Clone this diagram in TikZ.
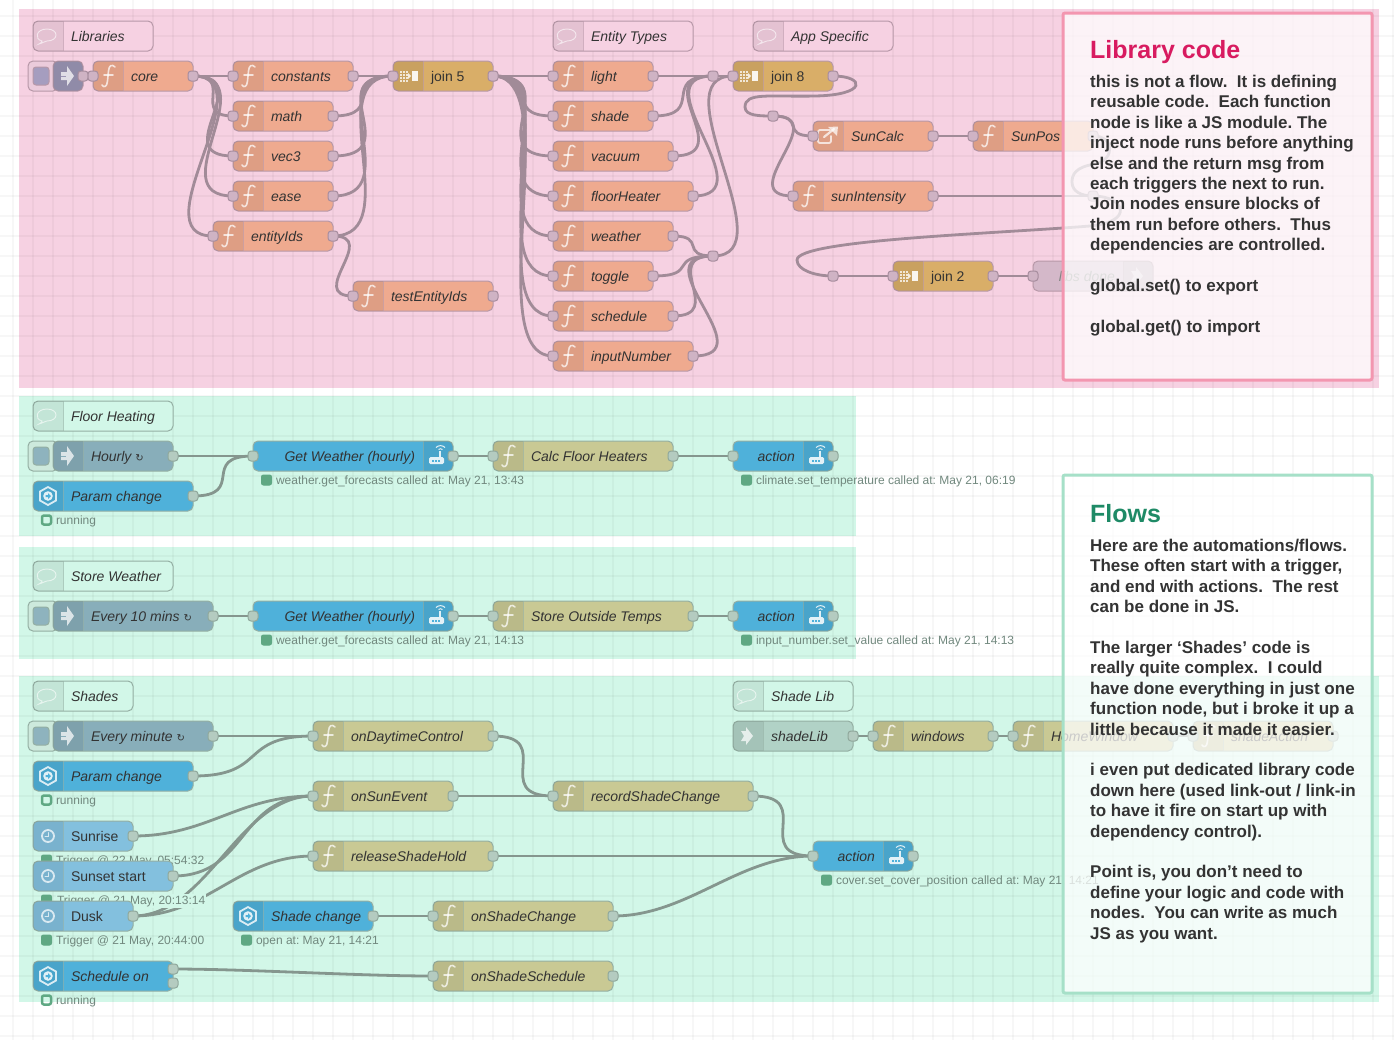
\documentclass[tikz,border=0pt]{standalone}
\usepackage{fontspec}
\setmainfont{Liberation Sans}
\newfontfamily\symfont{DejaVu Sans}
\usetikzlibrary{calc,positioning}

\definecolor{pinkzone}{HTML}{F6D1E2}
\definecolor{greenzone}{HTML}{D2F7E8}
\definecolor{inkcol}{HTML}{333333}
\definecolor{bluecol}{HTML}{4FB1DA}
\definecolor{clockcol}{HTML}{83C0DE}

\pgfdeclarelayer{grid}
\pgfdeclarelayer{wires}
\pgfdeclarelayer{notes}
\pgfsetlayers{grid,wires,main,notes}

\tikzset{
  flowbox/.style={draw=edgecol,line width=1pt,rounded corners=5pt,minimum height=30pt,inner sep=0pt,outer sep=0pt},
  port/.style={draw=portedge,fill=portcol,line width=1pt,rounded corners=3pt,minimum size=10pt,inner sep=0pt,outer sep=0pt},
  wire/.style={draw=wirecol,line width=2.8pt},
  flowtext/.style={text=inkcol,inner sep=0pt,outer sep=0pt},
  statustext/.style={text=statuscol,inner sep=0pt,outer sep=0pt,font=\fontsize{12}{14}\selectfont},
  statusdot/.style={draw=dotcol,fill=dotcol,line width=1pt,rounded corners=2pt,minimum size=10pt,inner sep=0pt},
  statusring/.style={draw=dotcol,line width=2.5pt,rounded corners=2pt,minimum size=9pt,inner sep=0pt},
  iconfill/.style={fill=white,fill opacity=.72},
  iconline/.style={draw=white,draw opacity=.72,line width=1.6pt,line cap=round},
  notebox/.style={line width=3pt,rounded corners=2pt,fill=white,fill opacity=.74,draw opacity=1,inner sep=0pt},
  notehead/.style={inner sep=0pt,font=\bfseries\fontsize{25}{30}\selectfont},
  notetext/.style={inner sep=0pt,align=left,text=inkcol,font=\bfseries\fontsize{17}{20.4}\selectfont}
}

% darker stripe on the icon side of a node
\newcommand{\leftstripe}[1]{
  \begin{scope}
    \clip[rounded corners=5pt] (#1.north west) rectangle (#1.south east);
    \fill[black,opacity=.07] (#1.north west) rectangle ($(#1.south west)+(30,0)$);
    \draw[edgecol,opacity=.6] ($(#1.north west)+(30,0)$) -- ($(#1.south west)+(30,0)$);
  \end{scope}
}
\newcommand{\rightstripe}[1]{
  \begin{scope}
    \clip[rounded corners=5pt] (#1.north west) rectangle (#1.south east);
    \fill[black,opacity=.07] ($(#1.north east)-(30,0)$) rectangle (#1.south east);
    \draw[edgecol,opacity=.6] ($(#1.north east)-(30,0)$) -- ($(#1.south east)-(30,0)$);
  \end{scope}
}

% body with a left stripe: name, x, y, width, fill
\newcommand{\leftnode}[5]{
  \node[flowbox,fill=#5,minimum width=#4pt] (#1) at ({#2+#4/2},#3) {};
  \leftstripe{#1}
}
\newcommand{\leftlabel}[5][\itshape]{
  \node[flowtext,anchor=base west,font=\fontsize{14}{16}\selectfont#1] (#2-t) at ({#3+38},{#4+5}) {#5};
}
\newcommand{\portin}[3]{\node[port] (#1-i) at (#2,#3) {};}
\newcommand{\portout}[3]{\node[port] (#1-o) at (#2,#3) {};}

% icons, drawn from the left edge of the node (or the right one, for right stripes)
\newcommand{\fnglyph}[2]{
  \begin{scope}[shift={(#1,#2)}]
    \draw[iconline] (22,-9) .. controls (19,-12) and (16,-11) .. (15.5,-5) -- (14.5,5) .. controls (14,11) and (11,12) .. (9,9);
    \draw[iconline] (11,-1) -- (20,-1);
  \end{scope}
}
\newcommand{\injectglyph}[2]{
  \begin{scope}[shift={(#1,#2)}]
    \fill[iconfill] (8,-4) -- (14,-4) -- (14,-10) -- (21,0) -- (14,10) -- (14,4) -- (8,4) -- cycle;
    \draw[injcol,line width=1pt] (8,0) -- (13,0);
  \end{scope}
}
\newcommand{\hexglyph}[2]{
  \begin{scope}[shift={(#1,#2)}]
    \draw[draw=white,draw opacity=.8,line width=1.8pt] (15,-9) -- (23,-4.5) -- (23,4.5) -- (15,9) -- (7,4.5) -- (7,-4.5) -- cycle;
    \fill[white,opacity=.85] (15,0) circle (4.8pt);
    \fill[bluecol] (12.5,-1) -- (15,-1) -- (15,-3) -- (18,0) -- (15,3) -- (15,1) -- (12.5,1) -- cycle;
  \end{scope}
}
\newcommand{\clockglyph}[2]{
  \begin{scope}[shift={(#1,#2)}]
    \draw[iconline,line width=1.8pt] (15,0) circle (6pt);
    \draw[iconline,line width=1pt] (15,-3.5) -- (15,0) -- (12,0);
  \end{scope}
}
\newcommand{\routerglyph}[2]{
  \begin{scope}[shift={(#1,#2)}]
    \fill[white,opacity=.85,rounded corners=1.5pt] (-24,1) rectangle (-9,8);
    \foreach \dotx in {-21,-18,-15} {\fill[bluecol] (\dotx,3.6) rectangle +(2,2);}
    \draw[white,opacity=.85,line width=1.4pt] (-13,1) -- (-13,-5);
    \draw[white,opacity=.85,line width=1pt] (-14.5,-6.5) .. controls (-13.5,-7.5) and (-11.5,-7.5) .. (-10.5,-6.5);
    \draw[white,opacity=.85,line width=1pt] (-17,-8.5) .. controls (-14.5,-11) and (-10.5,-11) .. (-8,-8.5);
  \end{scope}
}
\newcommand{\joinglyph}[2]{
  \begin{scope}[shift={(#1,#2)}]
    \foreach \dotx in {7,10,13} {\foreach \doty in {-5,-2,1,4} {\fill[white,opacity=.75] (\dotx,\doty) rectangle +(1.8,1.8);}}
    \fill[white,opacity=.8] (15,-3) -- (18,0) -- (15,3) -- cycle;
    \fill[white,opacity=.9] (19,-5) rectangle (25,5);
  \end{scope}
}
\newcommand{\linkoutglyph}[2]{
  \begin{scope}[shift={(#1,#2)}]
    \draw[iconline,line width=1.8pt,rounded corners=2pt] (17,-6) -- (5,-6) -- (5,7) -- (18,7) -- (18,0);
    \draw[iconline,line width=2.2pt] (11,1) -- (21,-7);
    \fill[iconfill] (15,-9) -- (25,-9.5) -- (24,0) -- cycle;
  \end{scope}
}
\newcommand{\linkglyph}[2]{
  \begin{scope}[shift={(#1,#2)}]
    \fill[iconfill] (8,-5) -- (13,-5) -- (13,-9) -- (20,0) -- (13,9) -- (13,5) -- (8,5) -- (11,0) -- cycle;
  \end{scope}
}
\newcommand{\bubbleglyph}[2]{
  \begin{scope}[shift={(#1,#2)}]
    \draw[draw=white,draw opacity=.6,line width=.9pt] (9,5) .. controls (1,3) and (3,-7) .. (14,-7) .. controls (26,-7) and (26,5) .. (14,5) .. controls (12,5) and (10,7) .. (6,8) .. controls (8,7) and (9,6) .. (9,5) -- cycle;
  \end{scope}
}

% whole nodes: name, x, y, width, label
\newcommand{\fnnode}[5]{
  \leftnode{#1}{#2}{#3}{#4}{fncol}
  \fnglyph{#2}{#3}
  \leftlabel{#1}{#2}{#3}{#5}
  \portin{#1}{#2}{#3}
  \portout{#1}{#2+#4}{#3}
}
\newcommand{\joinnode}[4]{
  \leftnode{#1}{#2}{#3}{100}{joincol}
  \joinglyph{#2}{#3}
  \leftlabel[\upshape]{#1}{#2}{#3}{#4}
  \portin{#1}{#2}{#3}
  \portout{#1}{#2+100}{#3}
}
\newcommand{\commentnode}[5]{
  \leftnode{#1}{#2}{#3}{#4}{zonecol}
  \bubbleglyph{#2}{#3}
  \leftlabel{#1}{#2}{#3}{#5}
}
\newcommand{\injectnode}[5]{
  \node[flowbox,fill=btnouter,minimum width=30pt] (#1-b) at (43,#3) {};
  \node[flowbox,fill=btncol,minimum width=16pt,minimum height=18pt,rounded corners=3pt] (#1-p) at (41,#3) {};
  \leftnode{#1}{#2}{#3}{#4}{injcol}
  \injectglyph{#2}{#3}
  \leftlabel{#1}{#2}{#3}{#5}
  \portout{#1}{#2+#4}{#3}
}
\newcommand{\eventnode}[5]{
  \leftnode{#1}{#2}{#3}{#4}{bluecol}
  \hexglyph{#2}{#3}
  \leftlabel{#1}{#2}{#3}{#5}
}
\newcommand{\clocknode}[5]{
  \leftnode{#1}{#2}{#3}{#4}{clockcol}
  \clockglyph{#2}{#3}
  \leftlabel[\upshape]{#1}{#2}{#3}{#5}
  \portout{#1}{#2+#4}{#3}
}
\newcommand{\callnode}[5]{
  \node[flowbox,fill=bluecol,minimum width=#4pt] (#1) at ({#2+#4/2},#3) {};
  \rightstripe{#1}
  \routerglyph{#2+#4}{#3}
  \node[flowtext,anchor=base east,font=\fontsize{14}{16}\selectfont\itshape] (#1-t) at ({#2+#4-38},{#3+5}) {#5};
  \portin{#1}{#2}{#3}
  \portout{#1}{#2+#4}{#3}
}
\newcommand{\dotstatus}[5][]{
  \node[statusdot] (#2-d) at ({#3+13.5},{#4+24}) {};
  \node[statustext,anchor=base west,#1] (#2-s) at ({#3+23},{#4+28}) {#5};
}
\newcommand{\ringstatus}[4]{
  \node[statusring] (#1-d) at ({#2+13.5},{#3+24}) {};
  \node[statustext,anchor=base west] (#1-s) at ({#2+23},{#3+28}) {#4};
}

% standard link between two ports
\newcommand{\wire}[2]{
  \begin{pgfonlayer}{wires}
    \draw[wire] let \p1=($(#2.center)-(#1.center)$), \n1={min(75pt,0.75*veclen(\x1,\y1))} in
      (#1.center) .. controls ($(#1.center)+(\n1,0)$) and ($(#2.center)-(\n1,0)$) .. (#2.center);
  \end{pgfonlayer}
}

\begin{document}
\frenchspacing
\begin{tikzpicture}[x=1pt,y=-1pt]
  \useasboundingbox (0,0) rectangle (1394,1045);

  \begin{pgfonlayer}{grid}
    \fill[white] (0,0) rectangle (1394,1045);
    \fill[pinkzone] (19,9) rectangle (1379,388);
    \fill[greenzone] (19,396) rectangle (856,536);
    \fill[greenzone] (19,547) rectangle (856,659);
    \fill[greenzone] (19,676) rectangle (1379,1002);
    \foreach \gridx in {13,33,...,1393} {\draw[black,opacity=.03,line width=1.2pt] (\gridx,0) -- (\gridx,1040);}
    \foreach \gridy in {16,36,...,1036} {\draw[black,opacity=.03,line width=1.2pt] (0,\gridy) -- (1394,\gridy);}
  \end{pgfonlayer}

  % library zone
  \colorlet{zonecol}{pinkzone}
  \definecolor{edgecol}{HTML}{B798A8}
  \definecolor{portcol}{HTML}{CFB3C4}
  \definecolor{portedge}{HTML}{A78D9E}
  \definecolor{wirecol}{HTML}{A18B98}
  \definecolor{fncol}{HTML}{EFAA8F}
  \definecolor{joincol}{HTML}{D9AE68}
  \definecolor{injcol}{HTML}{9C96B5}
  \definecolor{btncol}{HTML}{A59DBF}
  \definecolor{btnouter}{HTML}{EBCBDB}
  \definecolor{offcol}{HTML}{D4B8C9}

  \commentnode{libsC}{33}{36}{120}{Libraries}
  \commentnode{typesC}{553}{36}{140}{Entity Types}
  \commentnode{appC}{753}{36}{140}{App Specific}

  \injectnode{start}{53}{76}{30}{}
  \fnnode{core}{93}{76}{100}{core}
  \fnnode{constants}{233}{76}{120}{constants}
  \fnnode{math}{233}{116}{100}{math}
  \fnnode{vecthree}{233}{156}{100}{vec3}
  \fnnode{ease}{233}{196}{100}{ease}
  \fnnode{entityIds}{213}{236}{120}{entityIds}
  \fnnode{testIds}{353}{296}{140}{testEntityIds}
  \joinnode{joinfive}{393}{76}{join 5}

  \fnnode{light}{553}{76}{100}{light}
  \fnnode{shade}{553}{116}{100}{shade}
  \fnnode{vacuum}{553}{156}{120}{vacuum}
  \fnnode{floorHeater}{553}{196}{140}{floorHeater}
  \fnnode{weather}{553}{236}{120}{weather}
  \fnnode{toggle}{553}{276}{100}{toggle}
  \fnnode{schedule}{553}{316}{120}{schedule}
  \fnnode{inputNumber}{553}{356}{140}{inputNumber}

  \node[port] (jtop) at (713,76) {};
  \node[port] (jlow) at (713,256) {};
  \node[port] (jsun) at (773,116) {};
  \node[port] (jpos) at (1093,196) {};
  \node[port] (jend) at (833,276) {};

  \joinnode{joineight}{733}{76}{join 8}
  \leftnode{sunCalc}{813}{136}{120}{fncol}
  \linkoutglyph{813}{136}
  \leftlabel{sunCalc}{813}{136}{SunCalc}
  \portin{sunCalc}{813}{136}
  \portout{sunCalc}{933}{136}
  \fnnode{sunPos}{973}{136}{120}{SunPos}
  \fnnode{sunIntensity}{793}{196}{140}{sunIntensity}
  \joinnode{jointwo}{893}{276}{join 2}

  % disabled link out
  \node[flowbox,fill=offcol,minimum width=120pt] (libsDone) at (1093,276) {};
  \rightstripe{libsDone}
  \begin{scope}[shift={(1123,276)}]
    \fill[white,opacity=.45] (8,-5) -- (13,-5) -- (13,-9) -- (20,0) -- (13,9) -- (13,5) -- (8,5) -- (11,0) -- cycle;
  \end{scope}
  \node[flowtext,text=inkcol!60,anchor=base east,font=\fontsize{14}{16}\selectfont\itshape] (libsDone-t) at (1115,281) {libs done};
  \portin{libsDone}{1033}{276}

  \wire{start-o}{core-i}
  \foreach \target in {constants,math,vecthree,ease,entityIds} {\wire{core-o}{\target-i}}
  \foreach \source in {constants,math,vecthree,ease,entityIds} {\wire{\source-o}{joinfive-i}}
  \wire{entityIds-o}{testIds-i}
  \foreach \target in {light,shade,vacuum,floorHeater,weather,toggle,schedule,inputNumber} {\wire{joinfive-o}{\target-i}}
  \foreach \source in {light,shade,vacuum,floorHeater} {\wire{\source-o}{jtop}}
  \foreach \source in {weather,toggle,schedule,inputNumber} {\wire{\source-o}{jlow}}
  \wire{jtop}{joineight-i}
  \wire{jlow}{joineight-i}
  \wire{jsun}{sunCalc-i}
  \wire{jsun}{sunIntensity-i}
  \wire{sunCalc-o}{sunPos-i}
  \wire{sunIntensity-o}{jpos}
  \wire{jend}{jointwo-i}
  \wire{jointwo-o}{libsDone-i}
  \begin{pgfonlayer}{wires}
    \draw[wire] (joineight-o.center) .. controls (865,76) and (868,95) .. (815,96)
      .. controls (770,97) and (745,92) .. (745,107)
      .. controls (745,116) and (760,116) .. (jsun.center);
    \draw[wire] (sunPos-o.center) .. controls (1115,136) and (1115,160) .. (1095,164)
      .. controls (1075,167) and (1072,175) .. (1072,182)
      .. controls (1072,192) and (1082,196) .. (jpos.center);
    \draw[wire] (jpos.center) .. controls (1125,196) and (1135,222) .. (1090,226)
      .. controls (990,234) and (797,240) .. (797,260)
      .. controls (797,270) and (815,276) .. (jend.center);
  \end{pgfonlayer}

  % flow zones
  \colorlet{zonecol}{greenzone}
  \definecolor{edgecol}{HTML}{94AFA3}
  \definecolor{portcol}{HTML}{B4CBC0}
  \definecolor{portedge}{HTML}{90A89C}
  \definecolor{wirecol}{HTML}{85968E}
  \definecolor{fncol}{HTML}{C9C994}
  \definecolor{injcol}{HTML}{88AEBA}
  \definecolor{btncol}{HTML}{8EB3BE}
  \definecolor{btnouter}{HTML}{CDE9DC}
  \definecolor{statuscol}{HTML}{71887E}
  \definecolor{dotcol}{HTML}{5FA883}

  \commentnode{floorC}{33}{416}{140}{Floor Heating}
  \injectnode{hourly}{53}{456}{120}{Hourly {\symfont\fontsize{10}{12}\selectfont ↻}}
  \eventnode{paramA}{33}{496}{160}{Param change}
  \portout{paramA}{193}{496}
  \ringstatus{paramA}{33}{496}{running}
  \callnode{weatherA}{253}{456}{200}{Get Weather (hourly)}
  \dotstatus{weatherA}{253}{456}{weather.get\_forecasts called at: May 21, 13:43}
  \fnnode{calcFloor}{493}{456}{180}{Calc Floor Heaters}
  \callnode{actionA}{733}{456}{100}{action}
  \dotstatus{actionA}{733}{456}{climate.set\_temperature called at: May 21, 06:19}
  \wire{hourly-o}{weatherA-i}
  \wire{paramA-o}{weatherA-i}
  \wire{weatherA-o}{calcFloor-i}
  \wire{calcFloor-o}{actionA-i}

  \commentnode{storeC}{33}{576}{140}{Store Weather}
  \injectnode{tenMins}{53}{616}{160}{Every 10 mins {\symfont\fontsize{10}{12}\selectfont ↻}}
  \callnode{weatherB}{253}{616}{200}{Get Weather (hourly)}
  \dotstatus{weatherB}{253}{616}{weather.get\_forecasts called at: May 21, 14:13}
  \fnnode{storeTemps}{493}{616}{200}{Store Outside Temps}
  \callnode{actionB}{733}{616}{100}{action}
  \dotstatus{actionB}{733}{616}{input\_number.set\_value called at: May 21, 14:13}
  \wire{tenMins-o}{weatherB-i}
  \wire{weatherB-o}{storeTemps-i}
  \wire{storeTemps-o}{actionB-i}

  \commentnode{shadesC}{33}{696}{100}{Shades}
  \injectnode{everyMin}{53}{736}{160}{Every minute {\symfont\fontsize{10}{12}\selectfont ↻}}
  \eventnode{paramB}{33}{776}{160}{Param change}
  \portout{paramB}{193}{776}
  \ringstatus{paramB}{33}{776}{running}
  \clocknode{sunrise}{33}{836}{100}{Sunrise}
  \dotstatus{sunrise}{33}{836}{Trigger @ 22 May, 05:54:32}
  \clocknode{sunset}{33}{876}{140}{Sunset start}
  \dotstatus[fill=greenzone,inner sep=1pt]{sunset}{33}{876}{Trigger @ 21 May, 20:13:14}
  \clocknode{dusk}{33}{916}{100}{Dusk}
  \dotstatus{dusk}{33}{916}{Trigger @ 21 May, 20:44:00}
  \eventnode{shadeChange}{233}{916}{140}{Shade change}
  \portout{shadeChange}{373}{916}
  \dotstatus{shadeChange}{233}{916}{open at: May 21, 14:21}
  \eventnode{scheduleOn}{33}{976}{140}{Schedule on}
  \node[port] (scheduleOn-a) at (173,969) {};
  \node[port] (scheduleOn-b) at (173,983) {};
  \ringstatus{scheduleOn}{33}{976}{running}

  \fnnode{daytime}{313}{736}{180}{onDaytimeControl}
  \fnnode{sunEvent}{313}{796}{140}{onSunEvent}
  \fnnode{release}{313}{856}{180}{releaseShadeHold}
  \fnnode{shadeEvent}{433}{916}{180}{onShadeChange}
  \fnnode{shadeSched}{433}{976}{180}{onShadeSchedule}
  \fnnode{record}{553}{796}{200}{recordShadeChange}
  \callnode{actionC}{813}{856}{100}{action}
  \dotstatus{actionC}{813}{856}{cover.set\_cover\_position called at: May 21, 14:21}

  \commentnode{shadeLibC}{733}{696}{120}{Shade Lib}
  \definecolor{linkcol}{HTML}{B1D2C6}
  \leftnode{shadeLib}{733}{736}{120}{linkcol}
  \linkglyph{733}{736}
  \leftlabel{shadeLib}{733}{736}{shadeLib}
  \portout{shadeLib}{853}{736}
  \fnnode{windows}{873}{736}{120}{windows}
  \fnnode{homeWindow}{1013}{736}{160}{HomeWindow}
  \fnnode{shadeAction}{1193}{736}{140}{shadeAction}

  \wire{everyMin-o}{daytime-i}
  \wire{paramB-o}{daytime-i}
  \wire{sunrise-o}{sunEvent-i}
  \wire{sunset-o}{sunEvent-i}
  \wire{dusk-o}{sunEvent-i}
  \wire{dusk-o}{release-i}
  \wire{shadeChange-o}{shadeEvent-i}
  \wire{scheduleOn-a}{shadeSched-i}
  \wire{daytime-o}{record-i}
  \wire{sunEvent-o}{record-i}
  \wire{record-o}{actionC-i}
  \wire{release-o}{actionC-i}
  \wire{shadeEvent-o}{actionC-i}
  \wire{shadeLib-o}{windows-i}
  \wire{windows-o}{homeWindow-i}
  \wire{homeWindow-o}{shadeAction-i}

  % the two notes sit on top of everything
  \begin{pgfonlayer}{notes}
    \definecolor{libedge}{HTML}{F396B0}
    \definecolor{flowedge}{HTML}{A6E0C8}
    \definecolor{libhead}{HTML}{D81B60}
    \definecolor{flowhead}{HTML}{1E8A66}
    \node[notebox,draw=libedge,minimum width=309pt,minimum height=367pt] (libNote) at (1217.5,196.5) {};
    \node[notehead,text=libhead,anchor=base west] (libTitle) at (1090,58) {Library code};
    \node[notetext,anchor=north west] (libText) at (1090,75) {this is not a flow.\ \ It is defining\\
      reusable code.\ \ Each function\\
      node is like a JS module. The\\
      inject node runs before anything\\
      else and the return msg from\\
      each triggers the next to run.\\
      Join nodes ensure blocks of\\
      them run before others.\ \ Thus\\
      dependencies are controlled.\\[20.4pt]
      global.set() to export\\[20.4pt]
      global.get() to import};

    \node[notebox,draw=flowedge,minimum width=309pt,minimum height=518pt] (flowNote) at (1217.5,734) {};
    \node[notehead,text=flowhead,anchor=base west] (flowTitle) at (1090,522) {Flows};
    \node[notetext,anchor=north west] (flowText) at (1090,539) {Here are the automations/flows.\\
      These often start with a trigger,\\
      and end with actions.\ \ The rest\\
      can be done in JS.\\[20.4pt]
      The larger ‘Shades’ code is\\
      really quite complex.\ \ I could\\
      have done everything in just one\\
      function node, but i broke it up a\\
      little because it made it easier.\\[20.4pt]
      i even put dedicated library code\\
      down here (used link-out / link-in\\
      to have it fire on start up with\\
      dependency control).\\[20.4pt]
      Point is, you don’t need to\\
      define your logic and code with\\
      nodes.\ \ You can write as much\\
      JS as you want.};
  \end{pgfonlayer}
\end{tikzpicture}
\end{document}
